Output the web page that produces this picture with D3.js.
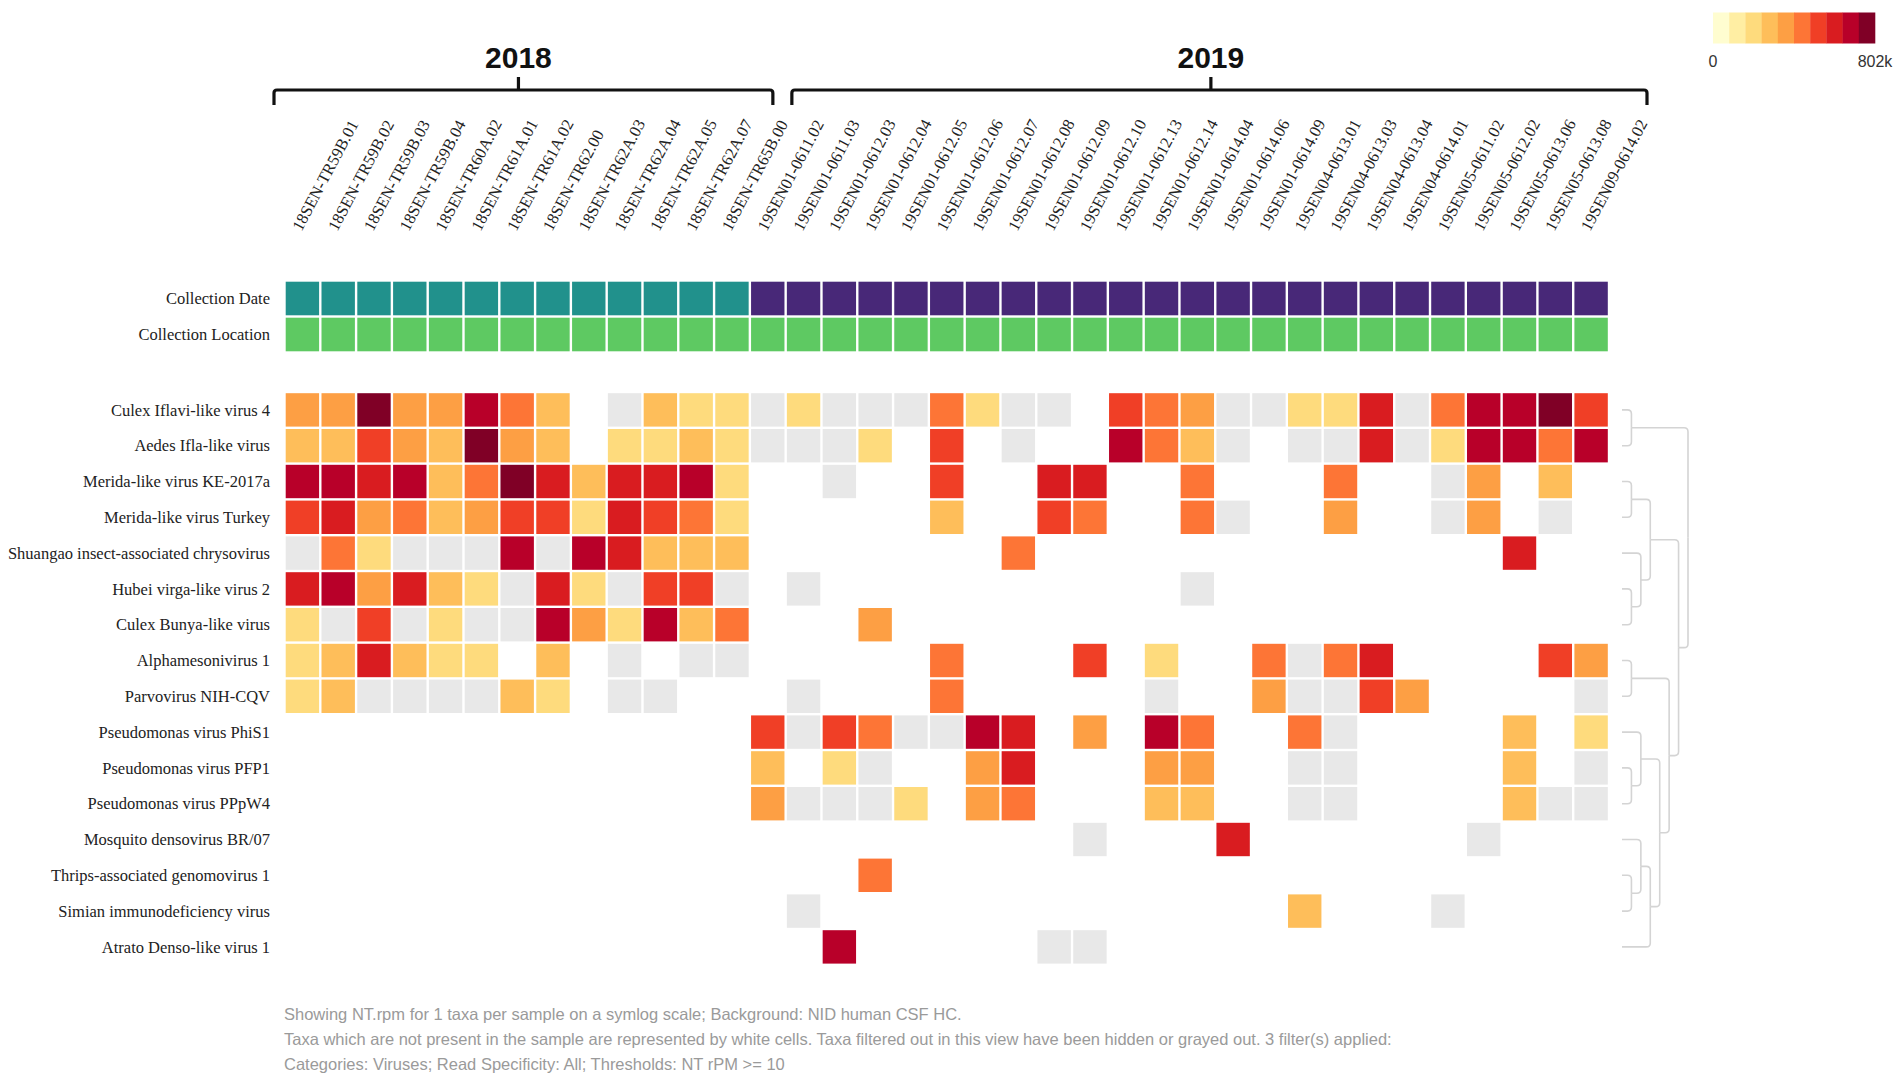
<!DOCTYPE html>
<html>
<head>
<meta charset="utf-8">
<script src="https://cdn.jsdelivr.net/npm/d3@7"></script>
<style>
  body { margin: 0; background: #fff; }
  svg { display: block; }
</style>
</head>
<body>
<svg id="chart"></svg>
<script>
// ---------------- data ----------------
const samples2018 = [
  "18SEN-TR59B.01", "18SEN-TR59B.02", "18SEN-TR59B.03", "18SEN-TR59B.04", "18SEN-TR60A.02",
  "18SEN-TR61A.01", "18SEN-TR61A.02", "18SEN-TR62.00", "18SEN-TR62A.03", "18SEN-TR62A.04",
  "18SEN-TR62A.05", "18SEN-TR62A.07", "18SEN-TR65B.00"
];
const samples2019 = [
  "19SEN01-0611.02", "19SEN01-0611.03", "19SEN01-0612.03", "19SEN01-0612.04", "19SEN01-0612.05",
  "19SEN01-0612.06", "19SEN01-0612.07", "19SEN01-0612.08", "19SEN01-0612.09", "19SEN01-0612.10",
  "19SEN01-0612.13", "19SEN01-0612.14", "19SEN01-0614.04", "19SEN01-0614.06", "19SEN01-0614.09",
  "19SEN04-0613.01", "19SEN04-0613.03", "19SEN04-0613.04", "19SEN04-0614.01", "19SEN05-0611.02",
  "19SEN05-0612.02", "19SEN05-0613.06", "19SEN05-0613.08", "19SEN09-0614.02"
];
const years = ["2018", "2019"];
const metaRows = ["Collection Date", "Collection Location"];

const taxa = [
  "Culex Iflavi-like virus 4",
  "Aedes Ifla-like virus",
  "Merida-like virus KE-2017a",
  "Merida-like virus Turkey",
  "Shuangao insect-associated chrysovirus",
  "Hubei virga-like virus 2",
  "Culex Bunya-like virus",
  "Alphamesonivirus 1",
  "Parvovirus NIH-CQV",
  "Pseudomonas virus PhiS1",
  "Pseudomonas virus PFP1",
  "Pseudomonas virus PPpW4",
  "Mosquito densovirus BR/07",
  "Thrips-associated genomovirus 1",
  "Simian immunodeficiency virus",
  "Atrato Denso-like virus 1"
];

// NT.rpm as legend bin (0 = lowest .. 9 = 802k), _ = not present (white), g = filtered (gray)
const _ = null, g = -1;
const rpmBins = [
  [4,4,9,4,4,8,5,3,_,g,3,2,2, g,2,g,g,g,5,2,g,g,_,6,5,4,g,g,2,2,7,g,5,8,8,9,6],
  [3,3,6,4,3,9,4,3,_,2,2,3,2, g,g,g,2,_,6,_,g,_,_,8,5,3,g,_,g,g,7,g,2,8,8,5,8],
  [8,8,7,8,3,5,9,7,3,7,7,8,2, _,_,g,_,_,6,_,_,7,7,_,_,5,_,_,_,5,_,_,g,4,_,3,_],
  [6,7,4,5,3,4,6,6,2,7,6,5,2, _,_,_,_,_,3,_,_,6,5,_,_,5,g,_,_,4,_,_,g,4,_,g,_],
  [g,5,2,g,g,g,8,g,8,7,3,3,3, _,_,_,_,_,_,_,5,_,_,_,_,_,_,_,_,_,_,_,_,_,7,_,_],
  [7,8,4,7,3,2,g,7,2,g,6,6,g, _,g,_,_,_,_,_,_,_,_,_,_,g,_,_,_,_,_,_,_,_,_,_,_],
  [2,g,6,g,2,g,g,8,4,2,8,3,5, _,_,_,4,_,_,_,_,_,_,_,_,_,_,_,_,_,_,_,_,_,_,_,_],
  [2,3,7,3,2,2,_,3,_,g,_,g,g, _,_,_,_,_,5,_,_,_,6,_,2,_,_,5,g,5,7,_,_,_,_,6,4],
  [2,3,g,g,g,g,3,2,_,g,g,_,_, _,g,_,_,_,5,_,_,_,_,_,g,_,_,4,g,g,6,4,_,_,_,_,g],
  [_,_,_,_,_,_,_,_,_,_,_,_,_, 6,g,6,5,g,g,8,7,_,4,_,8,5,_,_,5,g,_,_,_,_,3,_,2],
  [_,_,_,_,_,_,_,_,_,_,_,_,_, 3,_,2,g,_,_,4,7,_,_,_,4,4,_,_,g,g,_,_,_,_,3,_,g],
  [_,_,_,_,_,_,_,_,_,_,_,_,_, 4,g,g,g,2,_,4,5,_,_,_,3,3,_,_,g,g,_,_,_,_,3,g,g],
  [_,_,_,_,_,_,_,_,_,_,_,_,_, _,_,_,_,_,_,_,_,_,g,_,_,_,7,_,_,_,_,_,_,g,_,_,_],
  [_,_,_,_,_,_,_,_,_,_,_,_,_, _,_,_,5,_,_,_,_,_,_,_,_,_,_,_,_,_,_,_,_,_,_,_,_],
  [_,_,_,_,_,_,_,_,_,_,_,_,_, _,g,_,_,_,_,_,_,_,_,_,_,_,_,_,3,_,_,_,g,_,_,_,_],
  [_,_,_,_,_,_,_,_,_,_,_,_,_, _,_,8,_,_,_,_,_,g,g,_,_,_,_,_,_,_,_,_,_,_,_,_,_]
];

// taxa clustering (row indices)
const taxaTree = [[0, 1], [[[2, 3], [4, [5, 6]]], [[7, 8], [[9, [10, 11]], [[12, [13, 14]], 15]]]]];

const legendTicks = ["0", "802k"];
const footnotes = [
  "Showing NT.rpm for 1 taxa per sample on a symlog scale; Background: NID human CSF HC.",
  "Taxa which are not present in the sample are represented by white cells. Taxa filtered out in this view have been hidden or grayed out. 3 filter(s) applied:",
  "Categories: Viruses; Read Specificity: All; Thresholds: NT rPM >= 10"
];

// ---------------- styles ----------------
const palette = ["#fffdd0", "#ffeea3", "#fedb7d", "#febe5a", "#fd9f44",
                 "#fd7536", "#f03f26", "#d91c20", "#b80029", "#800026"];
const grayColor = "#e8e8e8";
const yearColor = { "2018": "#21918c", "2019": "#482878" };
const locationColor = "#5ec962";
const serif = "'Liberation Serif', 'Times New Roman', serif";
const sans = "'Liberation Sans', Arial, sans-serif";

const width = 1902, height = 1083;
const gap = 2.4;

const samples = samples2018.concat(samples2019);
const sampleYear = samples.map(s => s.startsWith("18") ? "2018" : "2019");

const svg = d3.select("#chart").attr("width", width).attr("height", height);

const x = d3.scaleBand().domain(samples).range([284.5, 1609]);
const yMeta = d3.scaleBand().domain(metaRows).range([280.5, 352.5]);
const y = d3.scaleBand().domain(taxa).range([392, 392 + taxa.length * 35.8]);
const color = d3.scaleOrdinal(d3.range(palette.length), palette);
const bw = x.bandwidth();

// ---------------- year brackets ----------------
const brackets = [
  { year: years[0], x0: x(samples2018[0]) - 10.5, x1: x(samples2018[samples2018.length - 1]) + bw + 23 },
  { year: years[1], x0: x(samples2019[0]) + 42, x1: x(samples2019[samples2019.length - 1]) + bw + 38 }
];
const bg = svg.append("g").attr("class", "brackets");
brackets.forEach(b => {
  const mid = b.x0 + (b.x1 - b.x0) * 0.49;
  bg.append("path")
    .attr("d", `M${b.x0},105V93Q${b.x0},90 ${b.x0 + 3},90H${b.x1 - 3}Q${b.x1},90 ${b.x1},93V105M${mid},90V77`)
    .attr("fill", "none")
    .attr("stroke", "#111")
    .attr("stroke-width", 3.2);
  bg.append("text")
    .attr("x", mid)
    .attr("y", 68)
    .attr("text-anchor", "middle")
    .style("font-family", sans)
    .style("font-weight", "bold")
    .style("font-size", "30px")
    .style("fill", "#111")
    .text(b.year);
});

// ---------------- sample labels ----------------
svg.append("g")
  .selectAll("text")
  .data(samples)
  .join("text")
  .attr("transform", d => `translate(${x(d) + bw / 2 - 1},232) rotate(-62)`)
  .style("font-family", serif)
  .style("font-size", "16.5px")
  .style("fill", "#222")
  .text(d => d);

// ---------------- metadata rows ----------------
const meta = svg.append("g");
meta.selectAll("rect.date")
  .data(samples)
  .join("rect")
  .attr("class", "date")
  .attr("x", d => x(d) + gap / 2)
  .attr("y", yMeta(metaRows[0]) + gap / 2)
  .attr("width", bw - gap)
  .attr("height", yMeta.bandwidth() - gap)
  .attr("fill", (d, i) => yearColor[sampleYear[i]]);
meta.selectAll("rect.loc")
  .data(samples)
  .join("rect")
  .attr("class", "loc")
  .attr("x", d => x(d) + gap / 2)
  .attr("y", yMeta(metaRows[1]) + gap / 2)
  .attr("width", bw - gap)
  .attr("height", yMeta.bandwidth() - gap)
  .attr("fill", locationColor);

// ---------------- row labels ----------------
const labels = svg.append("g")
  .attr("text-anchor", "end")
  .style("font-family", serif)
  .style("font-size", "16.5px")
  .style("fill", "#222");
labels.selectAll("text.meta")
  .data(metaRows)
  .join("text")
  .attr("class", "meta")
  .attr("x", 270)
  .attr("y", d => yMeta(d) + yMeta.bandwidth() / 2)
  .attr("dy", "0.35em")
  .text(d => d);
labels.selectAll("text.taxon")
  .data(taxa)
  .join("text")
  .attr("class", "taxon")
  .attr("x", 270)
  .attr("y", d => y(d) + y.bandwidth() / 2)
  .attr("dy", "0.35em")
  .text(d => d);

// ---------------- heatmap cells ----------------
const cells = [];
taxa.forEach((t, r) => {
  samples.forEach((s, c) => {
    const v = rpmBins[r][c];
    if (v !== null) cells.push({ taxon: t, sample: s, value: v });
  });
});
svg.append("g")
  .selectAll("rect")
  .data(cells)
  .join("rect")
  .attr("x", d => x(d.sample) + gap / 2)
  .attr("y", d => y(d.taxon) + gap / 2)
  .attr("width", bw - gap)
  .attr("height", y.bandwidth() - gap)
  .attr("fill", d => d.value < 0 ? grayColor : color(d.value));

// ---------------- dendrogram ----------------
const root = d3.hierarchy(taxaTree, d => Array.isArray(d) ? d : null);
const dx = d3.scaleLinear().domain([0, root.height]).range([1622, 1688]);
root.eachAfter(n => {
  n.px = dx(n.height);
  if (!n.children) n.py = y(taxa[n.data]) + y.bandwidth() / 2;
  else n.py = (n.children[0].py + n.children[n.children.length - 1].py) / 2;
});
const r = 4;
const dendro = svg.append("g")
  .attr("fill", "none")
  .attr("stroke", "#d4d4d4")
  .attr("stroke-width", 1.6);
root.descendants().filter(n => n.parent).forEach(n => {
  const p = n.parent;
  const s = n.py < p.py ? 1 : -1;
  dendro.append("path")
    .attr("d", `M${n.px},${n.py}H${p.px - r}Q${p.px},${n.py} ${p.px},${n.py + s * r}V${p.py}`);
});

// ---------------- legend ----------------
const lx = d3.scaleLinear().domain([0, palette.length]).range([1713, 1875]);
const legend = svg.append("g");
legend.selectAll("rect")
  .data(palette)
  .join("rect")
  .attr("x", (d, i) => lx(i))
  .attr("y", 12.5)
  .attr("width", lx(1) - lx(0) + 0.3)
  .attr("height", 31)
  .attr("fill", d => d);
legend.selectAll("text")
  .data(legendTicks)
  .join("text")
  .attr("x", (d, i) => lx(i * palette.length))
  .attr("y", 67)
  .attr("text-anchor", "middle")
  .style("font-family", sans)
  .style("font-size", "16px")
  .style("fill", "#333")
  .text(d => d);

// ---------------- footnote ----------------
svg.append("g")
  .selectAll("text")
  .data(footnotes)
  .join("text")
  .attr("x", 284)
  .attr("y", (d, i) => 1020 + i * 25)
  .style("font-family", sans)
  .style("font-size", "16.5px")
  .style("fill", "#9a9a9a")
  .text(d => d);
</script>
</body>
</html>
